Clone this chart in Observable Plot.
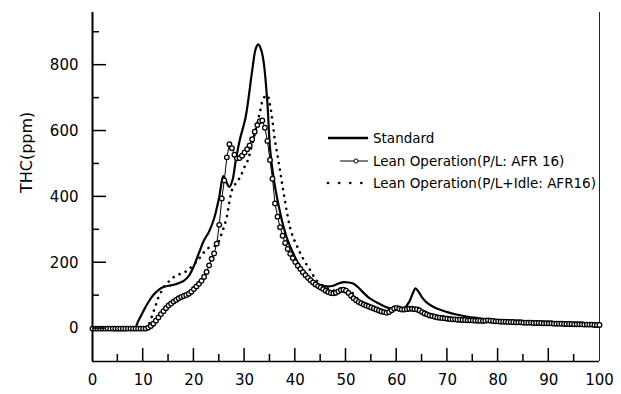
<!DOCTYPE html>
<html>
<head>
<meta charset="utf-8">
<script src="https://cdn.jsdelivr.net/npm/d3@7"></script>
<script src="https://cdn.jsdelivr.net/npm/@observablehq/plot@0.6"></script>
<style>
  html, body { margin: 0; padding: 0; background: #fff; }
  #chart svg { display: block; }
</style>
</head>
<body>
<div id="chart"></div>
<script>
// THC concentration (ppm) against time for three operating strategies.

// Standard operation: [time, THC]
const standard = [
  [0,0],[8.2,0],[9,22],[10,52],[11,80],[12,102],[13,117],[14,126],[15,130],[16,133],
  [17,138],[18,145],[19,160],[20,190],[21,230],[22,268],[23,295],[24,335],[25,400],[25.8,463],
  [26.4,445],[27,430],[27.6,450],[28.2,505],[29,570],[30.2,642],[31.5,784],[32.2,850],[32.7,863],[33.3,845],
  [33.8,805],[34.5,684],[35,550],[35.7,459],[36.5,390],[37.5,320],[38.5,268],[39.5,232],[40.5,200],[41.5,178],
  [42.5,160],[43.5,145],[44.5,135],[45.5,130],[46.5,128],[47.5,130],[48.5,137],[49.5,141],[50.5,140],[51.5,136],
  [52.5,124],[53.5,108],[54.5,94],[55.5,84],[56.5,76],[57.5,68],[58.5,62],[59.5,58],[60.5,56],[61.5,62],
  [62.5,82],[63.2,108],[63.7,122],[64.3,112],[65,95],[66,78],[67,68],[68,60],[70,50],[72,42],
  [74,36],[76,32],[78,28],[80,25],[84,22],[88,19],[92,17],[96,15],[100,12]
];

// Lean operation, P/L at AFR 16: [time, THC]
const leanPL = [
  [0,0],[0.5,0],[1,0],[1.5,0],[2,0],[2.5,0],[3,0],[3.5,0],[4,0],[4.5,0],
  [5,0],[5.5,0],[6,0],[6.5,0],[7,0],[7.5,0],[8,0],[8.5,0],[9,0],[9.5,0],
  [10,0],[10.5,0],
  [11,3],[11.5,8],[12,15],[12.5,24],[13,34],[13.5,44],[14,53],[14.5,62],[15,70],[15.5,76],
  [16,82],[16.5,87],[17,92],[17.5,96],[18,99],[18.5,102],[19,106],[19.5,112],[20,120],[20.5,128],
  [21,136],[21.5,145],[22,157],[22.5,172],[23,192],[23.5,212],[24,228],[24.5,258],[25,315],[25.5,395],
  [26,450],[26.5,520],[27,560],[27.5,548],[28,528],[28.5,517],[29,518],[29.5,525],[30,535],[30.5,545],
  [31,556],[31.5,575],[32,598],[32.5,618],[33,630],[33.5,632],[34,610],[34.5,570],[35,512],[35.5,455],
  [36,380],[36.5,340],[37,308],[37.5,282],[38,260],[38.5,242],[39,227],[39.5,214],[40,202],[40.5,191],
  [41,181],[41.5,171],[42,162],[42.5,154],[43,147],[43.5,140],[44,134],[44.5,129],[45,125],[45.5,120],
  [46,115],[46.5,111],[47,108],[47.5,107],[48,109],[48.5,113],[49,117],[49.5,118],[50,115],[50.5,108],
  [51,100],[51.5,92],[52,86],[52.5,81],[53,77],[53.5,73],[54,70],[54.5,67],[55,64],[55.5,61],
  [56,58],[56.5,55],[57,52],[57.5,50],[58,48],[58.5,50],[59,56],[59.5,61],[60,63],[60.5,60],
  [61,58],[61.5,58],[62,59],[62.5,60],[63,60],[63.5,59],[64,58],[64.5,55],[65,50],[65.5,46],
  [66,43],[66.5,40],[67,38],[67.5,36],[68,34],[68.5,33],[69,32],[69.5,31],[70,30],[70.5,29],
  [71,28],[71.5,28],[72,27],[72.5,27],[73,26],[73.5,26],[74,25],[74.5,25],[75,25],[75.5,24],
  [76,24],[76.5,24],[77,23],[77.5,24],[78,25],[78.5,24],[79,23],[79.5,22],[80,22],[80.5,21],
  [81,21],[81.5,21],[82,20],[82.5,20],[83,20],[83.5,19],[84,19],[84.5,19],[85,18],[85.5,18],
  [86,18],[86.5,18],[87,17],[87.5,17],[88,17],[88.5,17],[89,16],[89.5,16],[90,16],[90.5,16],
  [91,15],[91.5,15],[92,15],[92.5,15],[93,14],[93.5,14],[94,14],[94.5,14],[95,13],[95.5,13],
  [96,13],[96.5,13],[97,12],[97.5,12],[98,12],[98.5,12],[99,11],[99.5,11],[100,11]
];

// Lean operation, P/L + idle at AFR 16: [time, THC]
const leanIdle = [
  [0,0],[10,0],[11,10],[11.5,28],[12,50],[12.5,72],[13,95],[13.5,110],[14,125],[15,142],
  [16,156],[17,164],[18,170],[19,180],[20,195],[21,212],[22,232],[23,246],[24,250],[24.5,255],
  [25,268],[25.5,290],[26,312],[26.5,340],[27,385],[27.5,420],[28,435],[28.6,448],[29.2,462],[29.8,485],
  [30.6,510],[31.5,560],[32.3,610],[33,656],[33.5,690],[34,705],[34.5,708],[35,680],[35.5,630],[36,570],
  [36.5,525],[37,478],[37.5,430],[38,385],[38.5,340],[39,305],[39.5,280],[40,262],[40.5,245],[41,228],
  [42,200],[43,176],[44,150],[45,135],[46,125],[47,118],[48,115],[49,117],[50,118],[51,112],
  [52,95],[53,82],[54,74],[55,68],[56,62],[57,56],[58,52],[59,56],[60,62],[61,62],
  [62,60],[63,62],[64,62],[65,56],[66,48],[67,42],[68,38],[70,33],[72,30],[74,27],
  [76,25],[78,26],[80,24],[82,22],[84,21],[86,20],[88,19],[90,18],[92,17],[94,16],
  [96,15],[98,14],[100,13]
];

// Axis ticks
const xMajor = [0, 10, 20, 30, 40, 50, 60, 70, 80, 90, 100];
const xMinor = [5, 15, 25, 35, 45, 55, 65, 75, 85, 95];
const yMajor = [0, 200, 400, 600, 800];
const yMinor = [100, 300, 500, 700, 900];

const seriesNames = [
  "Standard",
  "Lean Operation(P/L: AFR 16)",
  "Lean Operation(P/L+Idle: AFR16)"
];

const W = 621, H = 394;
const mL = 92, mR = 22, mT = 12, mB = 33;
const font = "'DejaVu Sans', 'Liberation Sans', Arial, sans-serif";

const chart = Plot.plot({
  width: W,
  height: H,
  marginLeft: mL,
  marginRight: mR,
  marginTop: mT,
  marginBottom: mB,
  style: { fontFamily: font, background: "#fff", color: "#000" },
  x: { domain: [0, 100], axis: null },
  y: { domain: [-100, 960], axis: null },
  marks: [
    // frame: left axis, bottom axis, right border
    Plot.ruleX([0], { stroke: "#000", strokeWidth: 2 }),
    Plot.ruleY([-100], { stroke: "#000", strokeWidth: 1.5 }),
    Plot.ruleX([100], { stroke: "#222", strokeWidth: 1 }),
    // tick labels
    Plot.axisX({ ticks: xMajor, tickSize: 0, tickPadding: 13, fontSize: 15, tickFormat: d3.format("d") }),
    Plot.axisY({ ticks: yMajor, tickSize: 0, tickPadding: 14, fontSize: 15, tickFormat: d3.format("d"), label: null }),
    Plot.text(["THC(ppm)"], { frameAnchor: "left", dx: -66, dy: 6, rotate: -90, fontSize: 16, fill: "#000" }),
    // series
    Plot.line(standard, { x: d => d[0], y: d => d[1], stroke: "#000", strokeWidth: 2.2, curve: "catmull-rom" }),
    Plot.line(leanIdle, { x: d => d[0], y: d => d[1], stroke: "#000", strokeWidth: 2.6,
      strokeDasharray: "0.1 6.5", strokeLinecap: "round", curve: "catmull-rom" }),
    Plot.line(leanPL, { x: d => d[0], y: d => d[1], stroke: "#000", strokeWidth: 1 }),
    Plot.dot(leanPL, { x: d => d[0], y: d => d[1], r: 2.3, fill: "#fff", stroke: "#000", strokeWidth: 1.3 })
  ]
});

document.getElementById("chart").append(chart);

const svg = d3.select(chart);
const sx = chart.scale("x"), sy = chart.scale("y");
const x0 = sx.apply(0), yBottom = sy.apply(-100);

// inward tick marks on the left and bottom axes
const ticks = svg.append("g").attr("stroke", "#000").attr("stroke-width", 1.5);
const tickSets = [
  [xMajor.slice(1, -1), 13, "x"], [xMinor, 7, "x"],
  [yMajor, 14, "y"], [yMinor, 7, "y"]
];
tickSets.forEach(([values, len, dim]) => {
  values.forEach(v => {
    if (dim === "x") {
      const px = sx.apply(v);
      ticks.append("line").attr("x1", px).attr("x2", px).attr("y1", yBottom).attr("y2", yBottom - len);
    } else {
      const py = sy.apply(v);
      ticks.append("line").attr("x1", x0).attr("x2", x0 + len).attr("y1", py).attr("y2", py);
    }
  });
});

// legend
const lg = svg.append("g")
  .attr("font-family", font)
  .attr("font-size", 13.5)
  .attr("text-anchor", "start")
  .attr("fill", "#000");
const rows = [138, 161, 183];
const textX = 373;

lg.append("line").attr("x1", 328).attr("x2", 368).attr("y1", rows[0]).attr("y2", rows[0])
  .attr("stroke", "#000").attr("stroke-width", 2.5);
lg.append("line").attr("x1", 340).attr("x2", 368).attr("y1", rows[1]).attr("y2", rows[1])
  .attr("stroke", "#000").attr("stroke-width", 1);
lg.append("circle").attr("cx", 356).attr("cy", rows[1]).attr("r", 2.1)
  .attr("fill", "#fff").attr("stroke", "#000");
lg.append("line").attr("x1", 328).attr("x2", 362).attr("y1", rows[2]).attr("y2", rows[2])
  .attr("stroke", "#000").attr("stroke-width", 2.6).attr("stroke-linecap", "round")
  .attr("stroke-dasharray", "0.1 11");

seriesNames.forEach((name, i) => {
  lg.append("text").attr("x", textX).attr("y", rows[i]).attr("dy", "0.36em").text(name);
});
</script>
</body>
</html>
